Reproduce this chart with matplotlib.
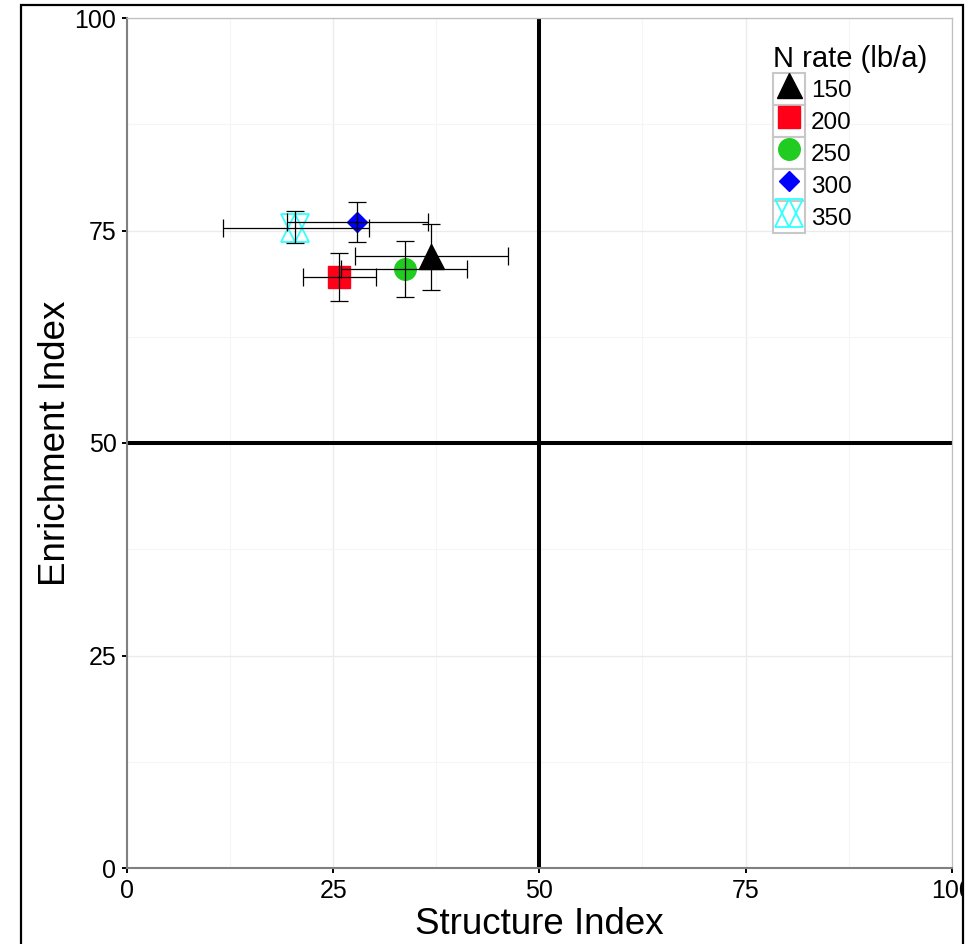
import matplotlib.pyplot as plt
from matplotlib.patches import Rectangle
from matplotlib.lines import Line2D
from matplotlib.legend_handler import HandlerTuple

plt.rcParams["font.family"] = ["Liberation Sans", "DejaVu Sans"]

# N rate groups
rates = ["150", "200", "250", "300", "350"]
si = [36.9, 25.7, 33.7, 27.9, 20.4]          # Structure Index (mean)
si_lo = [27.7, 21.4, 26.0, 19.4, 11.7]
si_hi = [46.2, 30.2, 41.2, 36.5, 29.3]
ei = [72.0, 69.5, 70.5, 76.0, 75.3]          # Enrichment Index (mean)
ei_lo = [68.0, 66.7, 67.2, 73.7, 73.5]
ei_hi = [75.8, 72.4, 73.8, 78.3, 77.3]

colors = ["black", "#ff0019", "#1fcc1f", "#0000ff", "#33ffff"]
markers = ["^", "s", "o", "D", None]
msizes = [18, 15.5, 15.5, 10.5, 20]

fig = plt.figure(figsize=(9.73, 9.44), dpi=100)
ax = fig.add_axes([127 / 973, 76 / 944, 824.7 / 973, 850 / 944])

ax.set_xlim(0, 100)
ax.set_ylim(0, 100)
ax.set_xticks([0, 25, 50, 75, 100])
ax.set_yticks([0, 25, 50, 75, 100])
ax.set_xticks([12.5, 37.5, 62.5, 87.5], minor=True)
ax.set_yticks([12.5, 37.5, 62.5, 87.5], minor=True)
ax.grid(which="major", color="#ebebeb", lw=1.0, zorder=0)
ax.grid(which="minor", color="#f5f5f5", lw=0.8, zorder=0)
ax.set_axisbelow(True)
ax.tick_params(which="minor", length=0)
ax.tick_params(which="major", length=3.6, width=1.4, color="black",
               labelsize=18, pad=4)

for s in ["left", "bottom"]:
    ax.spines[s].set_color("#808080")
    ax.spines[s].set_linewidth(1.5)
for s in ["top", "right"]:
    ax.spines[s].set_color("#bfbfbf")
    ax.spines[s].set_linewidth(0.9)

ax.axvline(50, color="black", lw=2.9, zorder=2)
ax.axhline(50, color="black", lw=2.9, zorder=2)

handles = []
for i in range(len(rates)):
    box = Rectangle((0, 0), 1, 1, facecolor="white", edgecolor="#c8c8c8", lw=1.5)
    if markers[i] is None:
        ax.plot(si[i], ei[i], marker="^", ms=msizes[i], mfc="none",
                mec=colors[i], mew=1.3, ls="none", zorder=3)
        ax.plot(si[i], ei[i], marker="v", ms=msizes[i], mfc="none",
                mec=colors[i], mew=1.3, ls="none", zorder=3)
        h1 = Line2D([], [], marker="^", ms=msizes[i], mfc="none",
                    mec=colors[i], mew=1.3, ls="none")
        h2 = Line2D([], [], marker="v", ms=msizes[i], mfc="none",
                    mec=colors[i], mew=1.3, ls="none")
        handles.append((box, h1, h2))
    else:
        ax.plot(si[i], ei[i], marker=markers[i], ms=msizes[i], color=colors[i],
                mec=colors[i], ls="none", zorder=3)
        h = Line2D([], [], marker=markers[i], ms=msizes[i], color=colors[i],
                   ls="none")
        handles.append((box, h))
    ax.errorbar(si[i], ei[i],
                xerr=[[si[i] - si_lo[i]], [si_hi[i] - si[i]]],
                yerr=[[ei[i] - ei_lo[i]], [ei_hi[i] - ei[i]]],
                fmt="none", ecolor="black", elinewidth=0.9, capsize=6.5,
                capthick=0.9, zorder=4)

leg = ax.legend(handles, rates, title="N rate (lb/a)", loc="upper left",
                bbox_to_anchor=(0.769, 0.983), frameon=False, fontsize=17.5,
                title_fontsize=21, handlelength=1.3, handleheight=1.65,
                labelspacing=0.0, handletextpad=0.25, borderpad=0,
                handler_map={tuple: HandlerTuple(ndivide=1)})
leg._legend_box.align = "left"

ax.set_xlabel("Structure Index", fontsize=26.5, labelpad=3)
ax.set_ylabel("Enrichment Index", fontsize=26.5, labelpad=1)

# outer frame of the figure
fig.patches.append(Rectangle((964 / 973, 0), 9 / 973, 1, transform=fig.transFigure,
                             facecolor="white", edgecolor="none", zorder=9))
fig.patches.append(Rectangle((21 / 973, -0.05), 942 / 973, (944 - 5) / 944 + 0.05,
                             transform=fig.transFigure, facecolor="none",
                             edgecolor="black", lw=1.6, zorder=10))

fig.savefig("out.png", dpi=100)
